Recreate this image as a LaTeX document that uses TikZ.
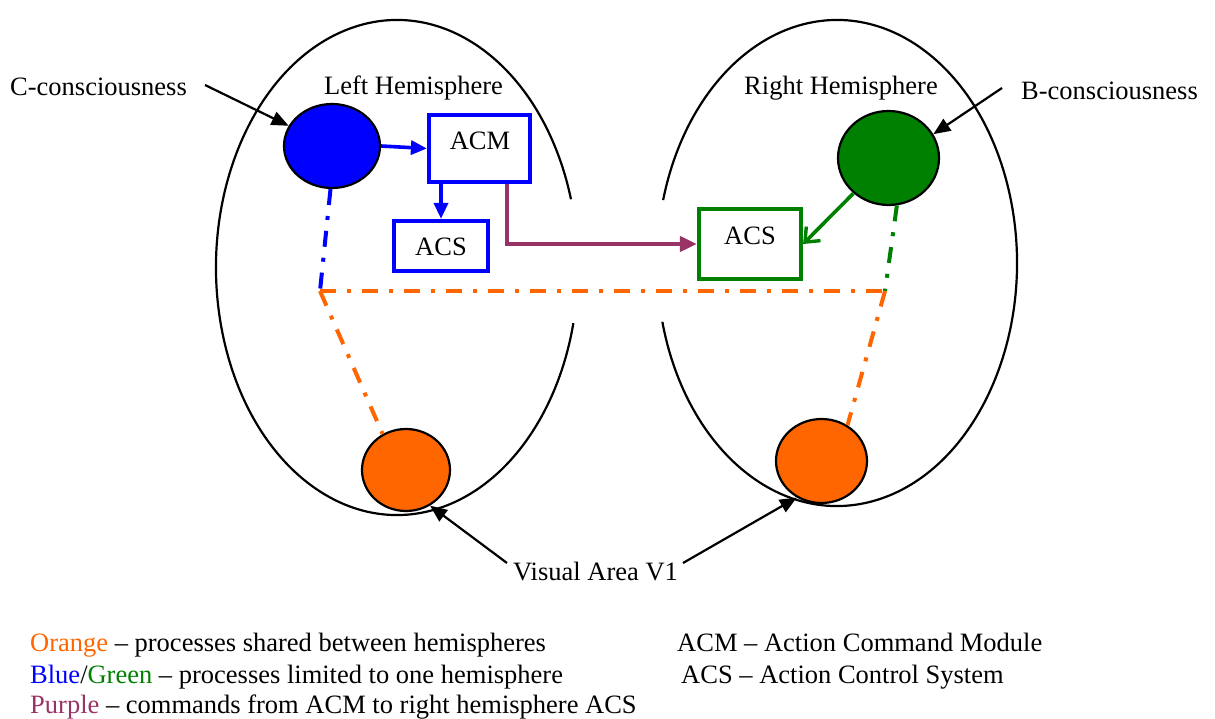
\documentclass[tikz,border=0pt]{standalone}
\usepackage{fontspec}
\setmainfont{Liberation Serif}
\usetikzlibrary{arrows.meta,shapes.geometric,calc}
\definecolor{oorange}{RGB}{255,102,0}
\definecolor{ogreen}{RGB}{0,128,0}
\definecolor{oblue}{RGB}{0,0,255}
\definecolor{opurple}{RGB}{153,51,102}
\begin{document}
\begin{tikzpicture}[x=1pt,y=1pt,
  font=\fontsize{26.5}{31.5}\selectfont,
  hemi/.style={line width=2.2pt},
  blob/.style={ellipse, draw=black, line width=2.2pt, inner sep=0pt},
  boxnode/.style={rectangle, draw, line width=4.2pt, inner sep=0pt, fill=white},
  txt/.style={inner sep=0pt},
  dd/.style={line width=4pt, dash pattern=on 16pt off 11pt on 4pt off 11pt},
  ptr/.style={line width=2.2pt, -{Triangle[length=17pt,width=14pt]}},
  barrow/.style={oblue, line width=3.6pt, -{Triangle[length=16pt,width=14pt]}},
  parrow/.style={opurple, line width=4pt, -{Triangle[length=17pt,width=15pt]}},
  garrow/.style={ogreen, line width=3.6pt, -{Straight Barb[length=12pt,width=20pt,line width=3.4pt]}}
]
\useasboundingbox (0,0) rectangle (1215,-719);

% hemispheres
\draw[hemi] ($(397,-267.5)+(16:181 and 247.5)$) arc[start angle=16, end angle=347, x radius=181, y radius=247.5];
\draw[hemi] ($(837,-263)+(194:180 and 243)$) arc[start angle=194, end angle=525, x radius=180, y radius=243];

% junction coordinates
\coordinate (jl) at (320,-291);
\coordinate (jr) at (885,-291);

% circles
\node[blob, fill=oblue, minimum width=96, minimum height=84] (cblue) at (332,-146) {};
\node[blob, fill=ogreen, minimum width=101, minimum height=94] (cgreen) at (888.5,-158) {};
\node[blob, fill=oorange, minimum width=88, minimum height=82] (oleft) at (406,-470) {};
\node[blob, fill=oorange, minimum width=91, minimum height=84] (oright) at (821.5,-461) {};

% boxes
\node[boxnode, draw=oblue, minimum width=101, minimum height=67] (acm) at (479.5,-148.5) {};
\node[boxnode, draw=oblue, minimum width=94, minimum height=50] (acsl) at (441,-246) {};
\node[boxnode, draw=ogreen, minimum width=102, minimum height=70] (acsr) at (750,-244) {};
\node[txt, anchor=base] (tacm) at (480,-150) {ACM};
\node[txt, anchor=base] (tacsl) at (441,-256) {ACS};
\node[txt, anchor=base] (tacsr) at (750,-245) {ACS};

% dash-dot lines
\draw[dd, oblue] (cblue.-92) -- (jl);
\draw[dd, ogreen] (cgreen.-80) -- (jr);
\draw[dd, oorange] (jl) -- (jr);
\draw[dd, oorange] (jl) -- (oleft.123);
\draw[dd, oorange] (jr) -- (oright.54);

% arrows
\draw[barrow] (cblue.east) -- (acm.west);
\draw[barrow] (acsl.north |- acm.south) -- (acsl.north);
\draw[parrow] ([xshift=27.5pt]acm.south) -- ([xshift=27.5pt]acm.south |- acsr.west) -- (acsr.west);
\draw[garrow] (cgreen) -- (acsr.east);

% labels
\node[txt, anchor=base] (lh) at (413.5,-95) {Left Hemisphere};
\node[txt, anchor=base] (rh) at (841,-95) {Right Hemisphere};
\node[txt, anchor=base west] (cc) at (10,-96) {C-consciousness};
\node[txt, anchor=base west] (bc) at (1021,-100) {B-consciousness};
\node[txt, anchor=base west] (v1) at (513,-580) {Visual Area V1};

\coordinate (ccs) at (205,-85);
\coordinate (bcs) at (1002,-88);
\coordinate (v1l) at (507,-563);
\coordinate (v1r) at (683,-563);
\draw[ptr] (ccs) -- (cblue.155);
\draw[ptr] (bcs) -- (cgreen.28);
\draw[ptr] (v1l) -- (oleft.-56);
\draw[ptr] (v1r) -- (oright.-124);

% legend
\node[txt, anchor=base west] (l1) at (30,-651) {\textcolor{oorange}{Orange} – processes shared between hemispheres};
\node[txt, anchor=base west] (l2) at (30,-683) {\textcolor{oblue}{Blue}/\textcolor{ogreen}{Green} – processes limited to one hemisphere};
\node[txt, anchor=base west] (l3) at (30,-713) {\textcolor{opurple}{Purple} – commands from ACM to right hemisphere ACS};
\node[txt, anchor=base west] (r1) at (677,-651) {ACM – Action Command Module};
\node[txt, anchor=base west] (r2) at (681,-683) {ACS – Action Control System};
\end{tikzpicture}
\end{document}
